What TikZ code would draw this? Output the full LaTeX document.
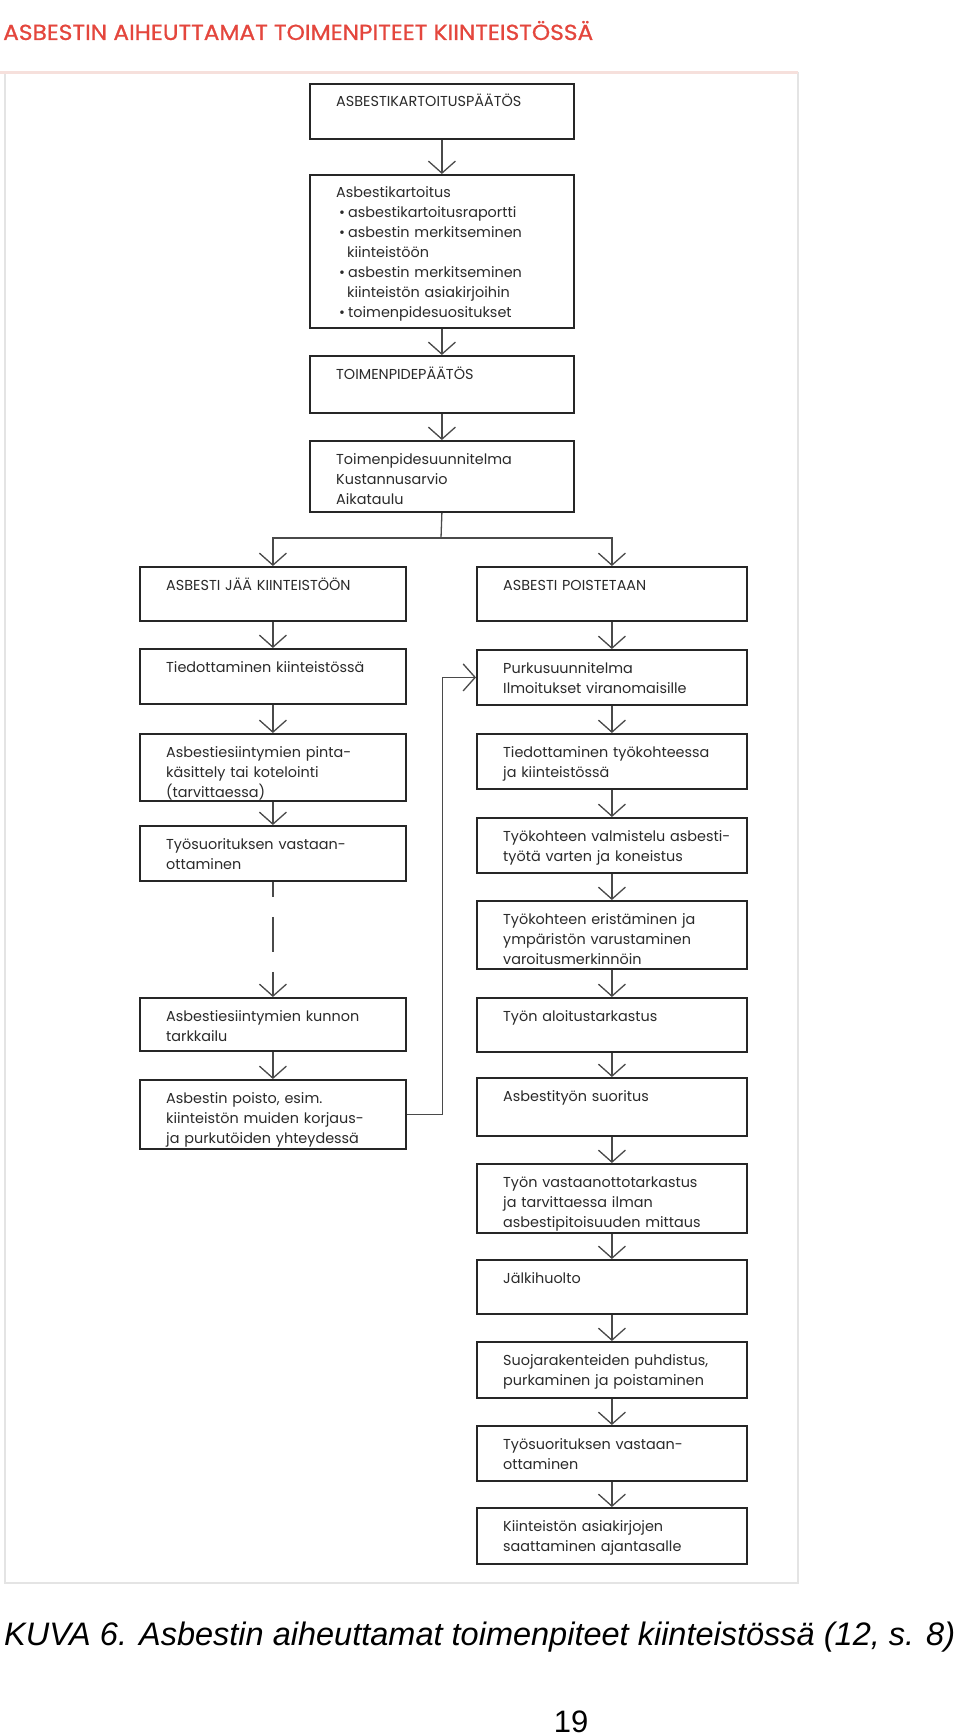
\documentclass[tikz,border=0pt]{standalone}
\usepackage{graphicx}
\usepackage{fontspec}
\setmainfont{Poppins}
\newfontfamily\capfont{Liberation Sans}
\newfontfamily\titlefont[FakeBold=0.8]{Poppins}
\usetikzlibrary{arrows.meta}
\definecolor{boxline}{HTML}{262626}
\definecolor{connline}{HTML}{4A4A4A}
\definecolor{txtcol}{HTML}{2A2A2A}
\definecolor{titlered}{HTML}{E4463D}
\definecolor{framecol}{HTML}{E4E4E4}
\definecolor{frametop}{HTML}{F6E0DC}
\newcommand\bulletitem{\hspace*{3pt}\makebox[9pt][l]{\textbullet}}
\newcommand\hangsp{\hspace*{11pt}}
\newcommand\flowbox[6]{%
  \node[box, minimum width=#4pt, minimum height=#5pt, anchor=north west] (#1) at (#2,#3) {};
  \node[txt, anchor=base west] (#1t) at ([xshift=27pt,yshift=-24pt]#1.north west) {#6};
}
\begin{document}
\begin{tikzpicture}[x=1pt,y=-1pt,
  box/.style={draw=boxline, line width=1.8pt, rectangle, inner sep=0pt, fill=white},
  txt/.style={font=\fontsize{14.4}{20}\selectfont, text=txtcol, text width=260pt, align=left, inner sep=0pt},
  conn/.style={draw=connline, line width=1.3pt},
  arr/.style={-{Straight Barb[length=12pt,width=27pt]}},
  dashconn/.style={conn, dash pattern=on 15pt off 20pt on 35pt off 20pt on 60pt}
]
\useasboundingbox (0,0) rectangle (960,1736);
\fill[white] (0,0) rectangle (960,1736);
% frame
\draw[framecol, line width=2pt] (5,73) rectangle (798,1583);
\draw[frametop, line width=3pt] (0,73) -- (798,73);
% title
\node[anchor=base west, inner sep=0pt, text=titlered] (title) at (3,40)
  {\resizebox{590pt}{19pt}{\titlefont\fontsize{20}{24}\selectfont ASBESTIN AIHEUTTAMAT TOIMENPITEET KIINTEISTÖSSÄ}};
% centre column
\flowbox{A}{309}{83}{264}{55}{ASBESTIKARTOITUSPÄÄTÖS}
\flowbox{B}{309}{174}{264}{153}{Asbestikartoitus\\
  \bulletitem asbestikartoitusraportti\\
  \bulletitem asbestin merkitseminen\\
  \hangsp kiinteistöön\\
  \bulletitem asbestin merkitseminen\\
  \hangsp kiinteistön asiakirjoihin\\
  \bulletitem toimenpidesuositukset}
\flowbox{C}{309}{355}{264}{57}{TOIMENPIDEPÄÄTÖS}
\flowbox{D}{309}{440}{264}{71}{Toimenpidesuunnitelma\\Kustannusarvio\\Aikataulu}
% left column
\flowbox{L1}{139}{566}{266}{54}{ASBESTI JÄÄ KIINTEISTÖÖN}
\flowbox{L2}{139}{648}{266}{55}{Tiedottaminen kiinteistössä}
\flowbox{L3}{139}{733}{266}{67}{Asbestiesiintymien pinta-\\käsittely tai kotelointi\\(tarvittaessa)}
\flowbox{L4}{139}{825}{266}{55}{Työsuorituksen vastaan-\\ottaminen}
\flowbox{L5}{139}{997}{266}{53}{Asbestiesiintymien kunnon\\tarkkailu}
\flowbox{L6}{139}{1079}{266}{69}{Asbestin poisto, esim.\\kiinteistön muiden korjaus-\\ja purkutöiden yhteydessä}
% right column
\flowbox{R1}{476}{566}{270}{54}{ASBESTI POISTETAAN}
\flowbox{R2}{476}{649}{270}{55}{Purkusuunnitelma\\Ilmoitukset viranomaisille}
\flowbox{R3}{476}{733}{270}{55}{Tiedottaminen työkohteessa\\ja kiinteistössä}
\flowbox{R4}{476}{817}{270}{55}{Työkohteen valmistelu asbesti-\\työtä varten ja koneistus}
\flowbox{R5}{476}{900}{270}{68}{Työkohteen eristäminen ja\\ympäristön varustaminen\\varoitusmerkinnöin}
\flowbox{R6}{476}{997}{270}{54}{Työn aloitustarkastus}
\flowbox{R7}{476}{1077}{270}{58}{Asbestityön suoritus}
\flowbox{R8}{476}{1163}{270}{69}{Työn vastaanottotarkastus\\ja tarvittaessa ilman\\asbestipitoisuuden mittaus}
\flowbox{R9}{476}{1259}{270}{54}{Jälkihuolto}
\flowbox{R10}{476}{1341}{270}{56}{Suojarakenteiden puhdistus,\\purkaminen ja poistaminen}
\flowbox{R11}{476}{1425}{270}{55}{Työsuorituksen vastaan-\\ottaminen}
\flowbox{R12}{476}{1507}{270}{56}{Kiinteistön asiakirjojen\\saattaminen ajantasalle}
% connectors centre
\draw[conn,arr] (A.south) -- (B.north);
\draw[conn,arr] (B.south) -- (C.north);
\draw[conn,arr] (C.south) -- (D.north);
\coordinate (split) at (441,538);
\draw[conn] (D.south) -- (split);
\draw[conn,arr] (split) -| (L1.north);
\draw[conn,arr] (split) -| (R1.north);
% left connectors
\draw[conn,arr] (L1.south) -- (L2.north);
\draw[conn,arr] (L2.south) -- (L3.north);
\draw[conn,arr] (L3.south) -- (L4.north);
\draw[dashconn,arr] (L4.south) -- (L5.north);
\draw[conn,arr] (L5.south) -- (L6.north);
% right connectors
\draw[conn,arr] (R1.south) -- (R2.north);
\draw[conn,arr] (R2.south) -- (R3.north);
\draw[conn,arr] (R3.south) -- (R4.north);
\draw[conn,arr] (R4.south) -- (R5.north);
\draw[conn,arr] (R5.south) -- (R6.north);
\draw[conn,arr] (R6.south) -- (R7.north);
\draw[conn,arr] (R7.south) -- (R8.north);
\draw[conn,arr] (R8.south) -- (R9.north);
\draw[conn,arr] (R9.south) -- (R10.north);
\draw[conn,arr] (R10.south) -- (R11.north);
\draw[conn,arr] (R11.south) -- (R12.north);
% cross connector
\draw[conn,arr] (L6.east) -- ++(36,0) |- (R2.west);
% caption
\node[anchor=base west, inner sep=0pt] (caption) at (4,1645)
  {\resizebox{951pt}{!}{\capfont\itshape\fontsize{32}{36}\selectfont KUVA 6. Asbestin aiheuttamat toimenpiteet kiinteistössä (12, s. 8)}};
\node[anchor=base, inner sep=0pt] (pagenum) at (571,1732) {\capfont\fontsize{31}{34}\selectfont 19};
\end{tikzpicture}
\end{document}
